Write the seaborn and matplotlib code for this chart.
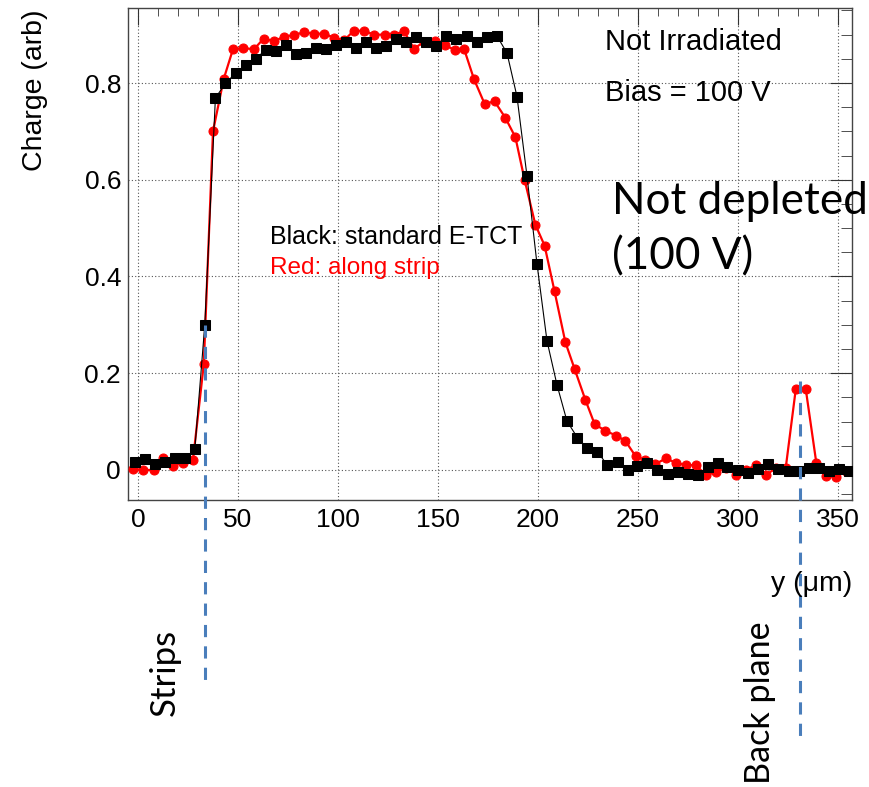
import matplotlib
matplotlib.use("Agg")
import matplotlib.pyplot as plt
import seaborn as sns
import pandas as pd
from matplotlib.ticker import MultipleLocator

# ---- data ----
black_y_um = [-1.6, 3.4, 8.4, 13.7, 18.7, 23.7, 28.4, 33.4, 38.7, 43.7, 48.9, 53.9,
              58.9, 63.9, 68.9, 73.9, 78.9, 83.9, 88.9, 93.9, 98.9, 104.2, 109.2, 114.2,
              118.9, 123.9, 129.2, 134.2, 139.2, 144.2, 149.2, 154.2, 159.2, 164.5, 169.5, 174.5,
              179.5, 184.5, 189.5, 194.5, 199.5, 204.5, 209.5, 214.5, 219.7, 224.7, 229.7, 234.7,
              240.0, 245.0, 249.7, 254.7, 259.7, 265.0, 270.0, 275.0, 280.0, 285.0, 290.0, 294.7,
              300.0, 305.0, 310.0, 315.0, 320.0, 325.5, 330.3, 335.3, 340.3, 345.3, 350.5, 355.3]
black_charge = [0.017, 0.023, 0.012, 0.016, 0.025, 0.025, 0.043, 0.300, 0.769, 0.799, 0.821, 0.838,
                0.850, 0.869, 0.866, 0.878, 0.859, 0.862, 0.872, 0.870, 0.878, 0.884, 0.872, 0.884,
                0.872, 0.877, 0.891, 0.885, 0.895, 0.885, 0.877, 0.898, 0.891, 0.898, 0.885, 0.895,
                0.897, 0.862, 0.772, 0.608, 0.426, 0.267, 0.176, 0.101, 0.067, 0.045, 0.038, 0.010,
                0.016, 0.001, 0.008, 0.015, 0.001, -0.008, -0.005, -0.008, -0.010, 0.007, 0.014, 0.006,
                0.001, -0.006, 0.003, 0.012, 0.003, -0.003, -0.003, 0.005, 0.005, -0.003, 0.003, -0.002]

red_y_um = [-2.5, 2.5, 7.9, 12.5, 17.5, 22.5, 27.5, 32.9, 37.5, 42.9, 47.5, 52.5,
            58.0, 62.9, 68.0, 72.9, 77.9, 83.0, 87.9, 92.9, 98.0, 103.0, 107.9, 113.0,
            118.0, 123.3, 128.0, 133.0, 138.0, 143.0, 148.3, 153.3, 158.3, 163.0, 168.0, 173.3,
            178.3, 183.7, 188.7, 193.3, 198.7, 203.3, 208.3, 213.7, 218.3, 223.7, 228.3, 233.7,
            239.2, 243.7, 248.9, 253.7, 258.7, 263.9, 268.9, 273.9, 278.9, 283.9, 288.9, 293.9,
            299.2, 304.2, 309.2, 314.2, 319.2, 323.9, 328.9, 333.9, 339.2, 344.2, 349.2, 354.2]
red_charge = [0.002, 0.000, 0.000, 0.025, 0.009, 0.015, 0.021, 0.219, 0.700, 0.809, 0.870, 0.872,
              0.870, 0.892, 0.886, 0.896, 0.899, 0.905, 0.902, 0.902, 0.894, 0.888, 0.908, 0.908,
              0.900, 0.900, 0.900, 0.907, 0.871, 0.885, 0.886, 0.878, 0.869, 0.871, 0.808, 0.757,
              0.762, 0.728, 0.688, 0.600, 0.507, 0.464, 0.369, 0.264, 0.209, 0.145, 0.095, 0.081,
              0.071, 0.060, 0.028, 0.021, 0.012, 0.024, 0.015, 0.010, 0.010, -0.010, -0.005, 0.005,
              -0.010, 0.001, 0.010, -0.010, 0.005, 0.005, 0.167, 0.167, 0.014, -0.013, -0.014, -0.002]

strips_pos = 33.4
backplane_pos = 331.0

df_black = pd.DataFrame({"y": black_y_um, "charge": black_charge})
df_red = pd.DataFrame({"y": red_y_um, "charge": red_charge})

sns.set_style("white")
plt.rcParams["font.family"] = ["Liberation Sans", "DejaVu Sans"]
plt.rcParams["text.color"] = "black"

fig = plt.figure(figsize=(8.69, 7.87), dpi=100)
ax = fig.add_axes([0.1473, 0.3647, 0.8331, 0.6251])

sns.lineplot(data=df_red, x="y", y="charge", ax=ax, color="#ff0000", linewidth=1.6,
             marker="o", markersize=6.5, markeredgecolor="#ff0000", estimator=None,
             sort=False, zorder=3)
sns.lineplot(data=df_black, x="y", y="charge", ax=ax, color="black", linewidth=0.8,
             marker="s", markersize=6.5, markeredgecolor="black", estimator=None,
             sort=False, zorder=4)

ax.set_xlim(-5, 357)
ax.set_ylim(-0.062, 0.955)
ax.xaxis.set_major_locator(MultipleLocator(50))
ax.xaxis.set_minor_locator(MultipleLocator(10))
ax.yaxis.set_major_locator(MultipleLocator(0.2))
ax.yaxis.set_minor_locator(MultipleLocator(0.05))
ax.set_yticks([0, 0.2, 0.4, 0.6, 0.8])
ax.set_yticklabels(["0", "0.2", "0.4", "0.6", "0.8"])

ax.grid(True, which="major", linestyle=(0, (1, 2)), color="#555555", linewidth=0.8)
ax.tick_params(which="both", direction="in", top=True, right=True, labelsize=19,
               colors="#333333", labelcolor="black")
ax.tick_params(axis="x", which="major", length=12, pad=6)
ax.tick_params(axis="x", which="minor", length=6)
ax.tick_params(axis="y", which="major", length=16, pad=5)
ax.tick_params(axis="y", which="minor", length=8)
for s in ax.spines.values():
    s.set_color("#444444")
    s.set_linewidth(1.0)

ax.set_xlabel("")
ax.set_ylabel("")
fig.text(0.04, 0.988, "Charge (arb)", rotation=90, ha="center", va="top", fontsize=20.5)
fig.text(0.9804, 0.258, "y (μm)", ha="right", va="center", fontsize=20.5)

fig.text(0.696, 0.946, "Not Irradiated", ha="left", va="center", fontsize=21)
fig.text(0.696, 0.882, "Bias = 100 V", ha="left", va="center", fontsize=21)
fig.text(0.311, 0.699, "Black: standard E-TCT", ha="left", va="center", fontsize=18)
fig.text(0.311, 0.660, "Red: along strip", ha="left", va="center", fontsize=17.5, color="#ff0000")

cal = ["Lato", "DejaVu Sans"]
fig.text(0.704, 0.744, "Not depleted", ha="left", va="center", fontsize=31.7, family=cal)
fig.text(0.704, 0.673, "(100 V)", ha="left", va="center", fontsize=31.7, family=cal)

fig.text(0.190, 0.146, "Strips", rotation=90, ha="center", va="center", fontsize=25, family=cal)
fig.text(0.875, 0.107, "Back plane", rotation=90, ha="center", va="center", fontsize=24.6, family=cal)

dash_col = "#4a7ebb"
ax.plot([strips_pos, strips_pos], [0.30, -0.445], color=dash_col, linewidth=2.2,
        linestyle=(0, (4, 3)), clip_on=False, zorder=5)
ax.plot([backplane_pos, backplane_pos], [0.183, -0.555], color=dash_col, linewidth=2.2,
        linestyle=(0, (4, 3)), clip_on=False, zorder=5)

fig.savefig("out.png", dpi=100)
